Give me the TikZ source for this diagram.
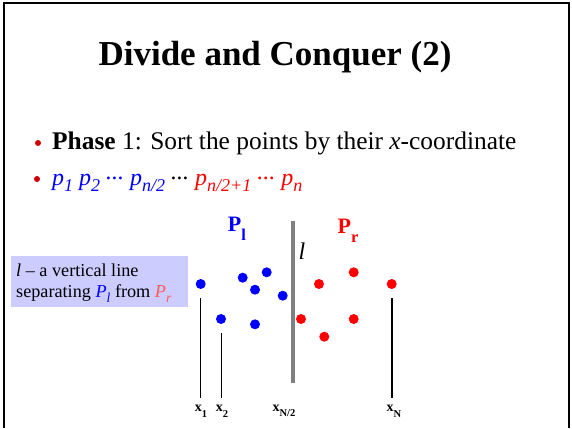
\documentclass[tikz,border=0pt]{standalone}
\usepackage{fontspec}
\setmainfont{Liberation Serif}
\definecolor{myblue}{RGB}{0,0,255}
\definecolor{myred}{RGB}{255,0,0}
\definecolor{bulletred}{RGB}{204,0,0}
\definecolor{boxfill}{RGB}{204,204,255}
\definecolor{salmon}{RGB}{255,90,90}
\newcommand\mysb[1]{\raisebox{-0.28em}{\scalebox{0.75}{#1}}}
\newcommand\mylow[1]{\raisebox{-0.4em}{\scalebox{0.75}{#1}}}
\newcommand\mydots{\raisebox{0.22em}{...}}
\begin{document}
\begin{tikzpicture}[x=1pt,y=-1pt,
  bluept/.style={circle,fill=myblue,inner sep=0pt,minimum size=10pt},
  redpt/.style={circle,fill=myred,inner sep=0pt,minimum size=10pt},
  bul/.style={circle,fill=bulletred,inner sep=0pt,minimum size=6pt},
  tick/.style={black,line width=0.8pt},
  lab/.style={font=\fontsize{14}{16}\selectfont\bfseries,inner sep=0pt}]
\useasboundingbox (0,0) rectangle (572,428);
% frame
\draw[line width=2pt] (4,428) -- (4,3) -- (569,3) -- (569,428);
% title
\node[font=\fontsize{35}{40}\selectfont\bfseries] (title) at (275,57) {Divide and Conquer (2)};
% bullets
\node[bul] (b1) at (38,143) {};
\node[anchor=west,font=\fontsize{25.4}{30}\selectfont,inner sep=0pt] (t1) at (52,143) {\textbf{Phase} 1: Sort the points by their \textit{x}-coordinate};
\node[bul] (b2) at (37,179) {};
\node[anchor=west,font=\fontsize{24}{28}\selectfont\itshape,inner sep=0pt] (t2) at (52,183)
 {\textcolor{myblue}{p\mysb{1} p\mysb{2} \mydots{} p\mysb{n/2}} \mydots{} \textcolor{myred}{p\mysb{n/2+1} \mydots{} p\mysb{n}}};
% box
\node[fill=boxfill,anchor=north west,minimum width=177pt,minimum height=51pt,inner sep=0pt] (box) at (11,256) {};
\node[anchor=west,font=\fontsize{18.2}{21}\selectfont,inner sep=0pt] (bt1) at (16,270) {\textit{l} – a vertical line};
\node[anchor=west,font=\fontsize{18.2}{21}\selectfont,inner sep=0pt] (bt2) at (16,294) {separating \textcolor{myblue}{\textit{P\mysb{l}}} from \textcolor{salmon}{\textit{P\mysb{r}}}};
% dividing line
\coordinate (lt) at (292.7,221);
\coordinate (lb) at (292.7,383);
\draw[line width=4pt,gray] (lt) -- (lb);
\node[font=\fontsize{24}{26}\selectfont\itshape] (ll) at (302,251) {l};
% set labels
\node[text=myblue,font=\fontsize{22}{24}\selectfont\bfseries] (Pl) at (237,229) {P\mylow{l}};
\node[text=myred,font=\fontsize{22}{24}\selectfont\bfseries] (Pr) at (348,231) {P\mylow{r}};
% points
\node[bluept] (a1) at (200.7,284) {};
\node[bluept] (a2) at (242.7,277.7) {};
\node[bluept] (a3) at (266.7,272.3) {};
\node[bluept] (a4) at (255,289.7) {};
\node[bluept] (a5) at (282.7,295.7) {};
\node[bluept] (a6) at (221,319) {};
\node[bluept] (a7) at (255,324.3) {};
\node[redpt] (r1) at (319,284) {};
\node[redpt] (r2) at (353.7,272.3) {};
\node[redpt] (r3) at (391.7,284) {};
\node[redpt] (r4) at (301,319) {};
\node[redpt] (r5) at (353.7,319) {};
\node[redpt] (r6) at (324.3,336.7) {};
% ticks
\coordinate (x1t) at (200.7,298);
\coordinate (x1b) at (200.7,398);
\coordinate (x2t) at (221.3,333);
\coordinate (x2b) at (221.3,398);
\coordinate (xnt) at (391.7,298);
\coordinate (xnb) at (391.7,398);
\draw[tick] (x1t) -- (x1b);
\draw[tick] (x2t) -- (x2b);
\draw[tick,line width=1.6pt] (xnt) -- (xnb);
% x labels
\node[lab] (lx1) at (201,411) {x\mylow{1}};
\node[lab] (lx2) at (222,411) {x\mylow{2}};
\node[lab] (lxm) at (284,411) {x\mylow{N/2}};
\node[lab] (lxn) at (394,411) {x\mylow{N}};
\end{tikzpicture}
\end{document}
